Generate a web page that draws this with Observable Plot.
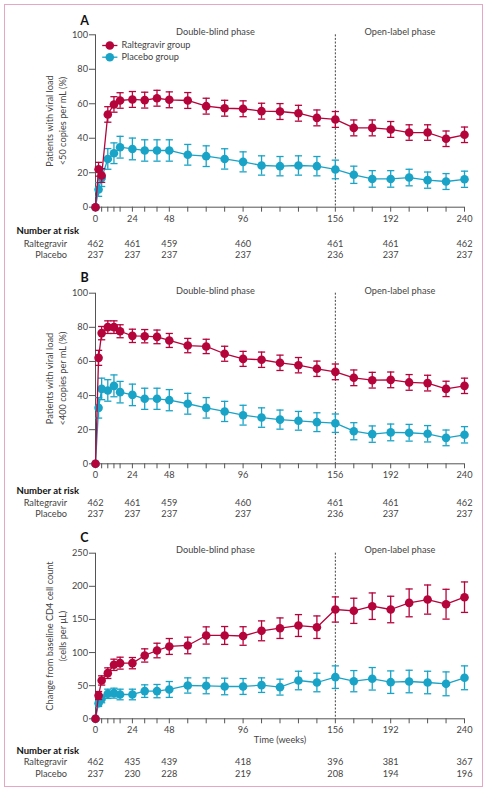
<!DOCTYPE html>
<html><head><meta charset="utf-8">
<script src="https://cdn.jsdelivr.net/npm/d3@7"></script>
<script src="https://cdn.jsdelivr.net/npm/@observablehq/plot@0.6"></script>
<style>
body{margin:0;background:#fff;}
#fig{position:relative;width:487px;height:793px;font-family:Lato,sans-serif;background:#fff;overflow:hidden;}
#frame{position:absolute;left:4px;top:4px;width:479px;height:783px;border:1.3px solid #e7a6c1;box-sizing:border-box;}
.panel{position:absolute;left:0;}
</style></head>
<body><div id="fig"><div id="frame"></div></div>
<script>
// ---- data ----
const weeks = [0,2,4,8,12,16,24,32,40,48,60,72,84,96,108,120,132,144,156,168,180,192,204,216,228,240];
const xTicks = [0,4,8,12,16,24,32,40,48,60,72,84,96,108,120,132,144,156,168,180,192,204,216,228,240];
const xTickLabels = [0,24,48,96,156,192,240];
const phases = [
  {label:"Double-blind phase", start:0, end:156},
  {label:"Open-label phase", start:156, end:240}
];
const groups = ["Raltegravir group","Placebo group"];
const riskRowLabels = ["Raltegravir","Placebo"];

// Panel A: viral load <50 copies/mL (%)
const ralA  = [0,22,18.4,53.8,59.6,61.9,62.5,62.1,63.2,62.3,61.9,58.6,57.4,57.1,55.7,55.5,54.5,51.8,50.9,46,46,45.1,43.3,43.3,39.7,42];
const ralErrA = [0,4,4,4.5,4.5,4.5,4.6,4.6,4.6,4.6,4.6,4.6,4.6,4.6,4.6,4.6,4.6,4.6,4.6,4.6,4.6,4.6,4.5,4.5,4.5,4.5];
const plaA  = [0,10.3,17,28,31.3,34.8,33.8,32.9,32.9,32.9,30.4,29.6,28,26.3,24.2,23.8,24.2,23.8,21.9,18.8,16.4,16.4,17.2,15.7,14.9,16.2];
const plaErrA = [0,4,5,6,6,6.3,6.3,6.2,6.2,6.2,6,6,5.9,5.8,5.6,5.6,5.6,5.6,5.4,5,4.8,4.8,4.8,4.7,4.6,4.7];
const nRalA = [462,461,459,460,461,461,462];
const nPlaA = [237,237,237,237,236,237,237];

// Panel B: viral load <400 copies/mL (%)
const ralB  = [0,62.1,76.6,80.1,80.1,77.7,75,74.8,74.4,72.3,69.3,68.8,64.5,61.5,61,59.2,57.8,55.7,53.9,50.4,49,49.2,47.7,47.3,43.9,45.7];
const ralErrB = [0,4.4,3.9,3.7,3.7,3.8,3.9,3.9,4,4.1,4.2,4.2,4.4,4.4,4.5,4.5,4.5,4.5,4.6,4.6,4.6,4.6,4.6,4.6,4.5,4.5];
const plaB  = [0,32.8,43.9,43,45.7,42,40.4,38.1,38.1,37.3,35.2,32.8,30.7,28.5,27.1,25.9,25.2,24.4,23.8,19.1,17.4,18.4,18.2,17.6,15.2,17];
const plaErrB = [0,6,6.3,6.3,6.4,6.3,6.3,6.2,6.2,6.2,6.1,6,5.9,5.8,5.7,5.6,5.5,5.5,5.4,5,4.8,4.9,4.9,4.8,4.6,4.8];
const nRalB = [462,461,459,460,461,461,462];
const nPlaB = [237,237,237,237,236,237,237];

// Panel C: change in CD4 count (cells/µL)
const ralC  = [0,35.2,57.9,68.9,81.5,84,84,95.6,103.1,109.2,110.7,125.8,125.8,125,132.8,136.8,140.8,138.3,165,163,170,165,175,180,173,183.6];
const ralErrC = [0,6,7,8,8.5,9,8.5,10,11,12,12.5,13,13.5,14,15,15.5,16.5,17,19,19,20,20,21,22,22.5,23];
const plaC  = [0,23.6,30.2,37.7,38.7,36.7,36.7,41.8,41.8,44.3,50.3,49.8,48.8,48.8,50.8,47.8,57.8,54.8,62.9,56.8,60.4,55.3,56.3,54.8,52.8,61.9];
const plaErrC = [0,5,6,7,7.5,8,8,9.5,10,12,11.5,12,12.5,12,11,12,14,14,17,16,17,17,17,17,18,18];
const nRalC = [462,435,439,418,396,381,367];
const nPlaC = [237,230,228,219,208,194,196];

// ---- styling ----
const RED = "#b5043c", BLUE = "#19a4c7", AX = "#555", TXT = "#333";
const hline = {draw(ctx, size){ const r = Math.sqrt(size/Math.PI); ctx.moveTo(-r,0); ctx.lineTo(r,0); }};

function rows(vals, errs){ return weeks.map((w,i)=>({week:w, v:vals[i], lo:vals[i]-errs[i], hi:vals[i]+errs[i]})); }

function panel(o){
  const ral = rows(o.ral, o.ralErr), pla = rows(o.pla, o.plaErr);
  const fs = 9.2;
  const T = {lineAnchor:"middle", fill:"#444", fontSize:fs};
  const series = (d, c) => [
    Plot.ruleX(d.filter(r=>r.hi>r.lo), {x:"week", y1:"lo", y2:"hi", stroke:c, strokeWidth:1.3}),
    Plot.dot(d.filter(r=>r.hi>r.lo), {x:"week", y:"lo", symbol:hline, r:3.6, stroke:c, strokeWidth:1.3}),
    Plot.dot(d.filter(r=>r.hi>r.lo), {x:"week", y:"hi", symbol:hline, r:3.6, stroke:c, strokeWidth:1.3}),
    Plot.line(d, {x:"week", y:"v", stroke:c, strokeWidth:1.3}),
    Plot.dot(d, {x:"week", y:"v", r:4.3, fill:c, stroke:"none"})
  ];
  const marks = [
    Plot.ruleX([phases[1].start], {stroke:"#444", strokeWidth:1, strokeDasharray:"2,1.6"}),
    Plot.ruleY([o.yDomain[0]], {stroke:AX, strokeWidth:1}),
    Plot.ruleX([0], {stroke:AX, strokeWidth:1}),
    Plot.axisY({ticks:o.yTicks, tickSize:6, tickPadding:1.5, label:null, stroke:AX, color:"#444", fontSize:fs}),
    Plot.axisX({ticks:xTicks, tickFormat:d=>xTickLabels.includes(d)?String(d):"", tickSize:5, tickPadding:3, label:null, stroke:AX, color:"#444", fontSize:fs}),
    Plot.text(phases, {...T, x:d=>(d.start+d.end)/2, text:"label", frameAnchor:"top", dy:o.phaseDy}),
    Plot.text([o.letter], {...T, frameAnchor:"top-left", dx:-11, dy:o.letterDy, fontWeight:"bold", fontSize:12.5, fill:"#111", textAnchor:"middle"}),
    Plot.text([o.yLabel], {...T, frameAnchor:"left", rotate:-90, dx:-40, textAnchor:"middle", lineHeight:1.35}),
    ...series(pla, BLUE),
    ...series(ral, RED),
    Plot.text(xTickLabels, {...T, x:d=>d, frameAnchor:"bottom", dy:o.rowDy[1], text:(d,i)=>String(o.nRal[i])}),
    Plot.text(xTickLabels, {...T, x:d=>d, frameAnchor:"bottom", dy:o.rowDy[2], text:(d,i)=>String(o.nPla[i])}),
    Plot.text(["Number at risk"], {...T, frameAnchor:"bottom-left", dx:-79, dy:o.rowDy[0], textAnchor:"start", fontWeight:"bold", fill:"#111", fontSize:fs+0.3}),
    Plot.text([riskRowLabels[0]], {...T, frameAnchor:"bottom-left", dx:-28.5, dy:o.rowDy[1], textAnchor:"end"}),
    Plot.text([riskRowLabels[1]], {...T, frameAnchor:"bottom-left", dx:-28.5, dy:o.rowDy[2], textAnchor:"end"})
  ];
  if (o.xLabel) marks.push(Plot.text([o.xLabel], {...T, frameAnchor:"bottom", dy:o.xLabelDy}));
  if (o.legend) {
    const lg = groups.map((g,i)=>({g, c:i===0?RED:BLUE, dy:10.7+i*11.7}));
    lg.forEach(l=>{
      marks.push(Plot.dot([l], {frameAnchor:"top-left", dx:14.3, dy:l.dy, symbol:hline, r:7.6, stroke:l.c, strokeWidth:1.3}));
      marks.push(Plot.dot([l], {frameAnchor:"top-left", dx:14.3, dy:l.dy, r:4.3, fill:l.c, stroke:"none"}));
      marks.push(Plot.text([l], {...T, frameAnchor:"top-left", dx:26, dy:l.dy, text:"g", textAnchor:"start"}));
    });
  }
  const svg = Plot.plot({
    width:487, height:o.height,
    marginLeft:95, marginRight:23, marginTop:o.mt, marginBottom:o.mb,
    x:{domain:[0,240]},
    y:{domain:o.yDomain},
    style:{fontFamily:"Lato, sans-serif", background:"transparent", overflow:"visible", color:TXT},
    marks
  });
  svg.classList.add("panel");
  svg.style.top = o.top + "px";
  document.getElementById("fig").appendChild(svg);
}

panel({letter:"A", top:0, height:262, mt:34.3, mb:55.3, yDomain:[0,100], yTicks:[0,20,40,60,80,100],
  yLabel:"Patients with viral load\n<50 copies per mL (%)", ral:ralA, ralErr:ralErrA, pla:plaA, plaErr:plaErrA,
  nRal:nRalA, nPla:nPlaA, phaseDy:-2.5, letterDy:-14.3, rowDy:[24,36.6,48.3], legend:true});
panel({letter:"B", top:262, height:258, mt:30.7, mb:56.7, yDomain:[0,100], yTicks:[0,20,40,60,80,100],
  yLabel:"Patients with viral load\n<400 copies per mL (%)", ral:ralB, ralErr:ralErrB, pla:plaB, plaErr:plaErrB,
  nRal:nRalB, nPla:nPlaB, phaseDy:-2.5, letterDy:-15, rowDy:[26.7,39,50.4]});
panel({letter:"C", top:520, height:273, mt:32.7, mb:74.7, yDomain:[0,250], yTicks:[0,50,100,150,200,250],
  yLabel:"Change from baseline CD4 cell count\n(cells per µL)", ral:ralC, ralErr:ralErrC, pla:plaC, plaErr:plaErrC,
  nRal:nRalC, nPla:nPlaC, phaseDy:-3, letterDy:-15.4, rowDy:[31.7,43.7,55.7], xLabel:"Time (weeks)", xLabelDy:21.7});
</script></body></html>
